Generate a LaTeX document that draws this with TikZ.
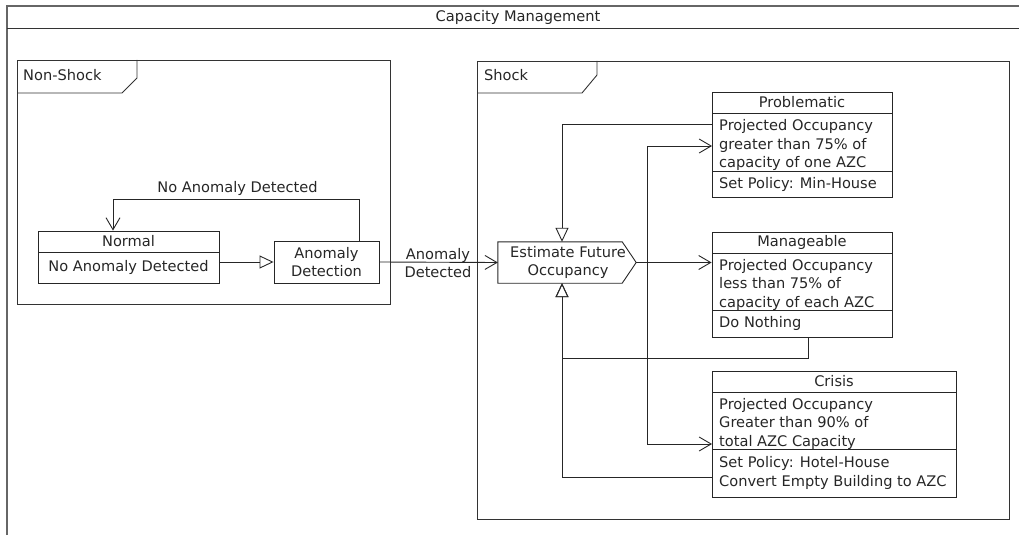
\documentclass[tikz,border=0pt]{standalone}
\usepackage{fontspec}
\setmainfont{DejaVu Sans}
\usetikzlibrary{arrows.meta}
\newcommand{\umlfont}{\fontsize{14.6}{18.5}\selectfont}
\begin{document}
\begin{tikzpicture}[x=1pt,y=-1pt,
  ln/.style={draw=black!85, line width=0.9pt},
  framel/.style={draw=black!80, line width=0.9pt},
  outerl/.style={draw=black!60, line width=1.4pt},
  box/.style={draw=black!85, line width=0.9pt, inner sep=0pt},
  hidden/.style={inner sep=0pt},
  txt/.style={inner sep=0pt, font=\umlfont, text=black!85},
  vhead/.style={-{Straight Barb[length=12pt,width=14pt]}},
  tri/.style={-{Triangle[open,length=14pt,width=13pt]}}]
\useasboundingbox (0,0) rectangle (1019,535);

% outer frame with title bar
\draw[outerl] (7,535) -- (7,6) -- (1019,6);
\draw[framel] (7,28) -- (1019,28);
\node[txt] (title) at (518,17) {Capacity Management};

% Non-Shock region
\draw[framel] (17,60) rectangle (390,304);
\draw[framel] (17,93) -- (122,93) -- (137,78) -- (137,60);
\node[txt, anchor=west] (nonshock) at (23,75) {Non-Shock};

% Shock region
\draw[framel] (477,61) rectangle (1009,519);
\draw[framel] (477,93) -- (582,93) -- (597,75) -- (597,61);
\node[txt, anchor=west] (shock) at (484,75) {Shock};

% Normal state
\node[box, minimum width=181pt, minimum height=52pt] (normal) at (128.5,257) {};
\draw[ln] (38,252) -- (219,252);
\node[txt] (normalT) at (128.5,241.5) {Normal};
\node[txt] (normalB) at (128.5,267.5) {No Anomaly Detected};

% Anomaly detection
\node[box, minimum width=105pt, minimum height=42pt] (anom) at (326.5,262) {};
\node[txt, align=center] (anomT) at (326.5,262) {Anomaly\\Detection};

% Estimate future occupancy (signal shape)
\node[hidden, minimum width=138pt, minimum height=41pt] (est) at (567,262.5) {};
\draw[ln] (est.north west) -- ([xshift=-14pt]est.north east) -- (est.east)
  -- ([xshift=-14pt]est.south east) -- (est.south west) -- cycle;
\node[txt, align=center] (estT) at (568,262.5) {Estimate Future\\Occupancy};

% Problematic
\node[box, minimum width=180pt, minimum height=105pt] (prob) at (802,144.5) {};
\draw[ln] (712,113) -- (892,113);
\draw[ln] (712,171) -- (892,171);
\node[txt] (probT) at (802,102.5) {Problematic};
\node[txt, anchor=west, align=left] (probM) at (719,145) {Projected Occupancy\\greater than 75\% of\\capacity of one AZC};
\node[txt, anchor=west] (probB) at (719,184) {Set Policy: Min-House};

% Manageable
\node[box, minimum width=180pt, minimum height=105pt] (mng) at (802,284.5) {};
\draw[ln] (712,253) -- (892,253);
\draw[ln] (712,310) -- (892,310);
\node[txt] (mngT) at (802,242.5) {Manageable};
\node[txt, anchor=west, align=left] (mngM) at (719,284.5) {Projected Occupancy\\less than 75\% of\\capacity of each AZC};
\node[txt, anchor=west] (mngB) at (719,323.5) {Do Nothing};

% Crisis
\node[box, minimum width=244pt, minimum height=126pt] (cris) at (834,434) {};
\draw[ln] (712,392) -- (956,392);
\draw[ln] (712,449) -- (956,449);
\node[txt] (crisT) at (834,381.5) {Crisis};
\node[txt, anchor=west, align=left] (crisM) at (719,423.5) {Projected Occupancy\\Greater than 90\% of\\total AZC Capacity};
\node[txt, anchor=west, align=left] (crisB) at (719,473) {Set Policy: Hotel-House\\Convert Empty Building to AZC};

% routing points
\coordinate (loopR) at (359,199);
\coordinate (loopL) at (113,199);
\coordinate (jt) at (562,124);
\coordinate (jr) at (647,262.5);
\coordinate (probIn) at (712,146);
\coordinate (crisIn) at (712,444);
\coordinate (mb) at (808,358);
\coordinate (crisOut) at (712,477);

% connectors in Non-Shock
\draw[ln,tri] (normal.east |- anom.west) -- (anom.west);
\draw[ln,vhead] (anom.north -| loopR) -- (loopR) -- (loopL) -- (loopL |- normal.north);
\node[txt, anchor=south] (noanom) at (237.5,195.5) {No Anomaly Detected};

% into Shock
\draw[ln,vhead] (anom.east) -- (est.west);
\node[txt, align=center] (adlbl) at (438,263) {Anomaly\\Detected};

% from estimate to the three outcomes
\draw[ln,vhead] (est.east) -- (est.east -| mng.west);
\draw[ln,vhead] (jr) |- (probIn);
\draw[ln,vhead] (jr) |- (crisIn);

% back to estimate
\draw[ln,tri] (prob.west |- jt) -- (jt) -- (jt |- est.north);
\draw[ln,tri] (mng.south -| mb) -- (mb) -| (est.south -| jt);
\draw[ln,tri] (crisOut) -| (est.south -| jt);
\end{tikzpicture}
\end{document}
